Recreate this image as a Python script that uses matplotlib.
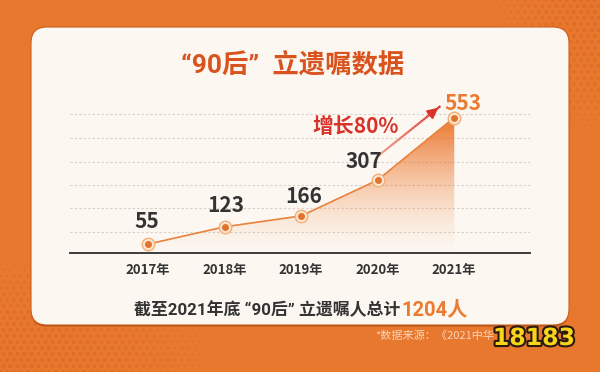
import numpy as np
import matplotlib
matplotlib.use("Agg")
import matplotlib.pyplot as plt
from matplotlib.patches import FancyBboxPatch, Polygon
from matplotlib.collections import LineCollection
from matplotlib.colors import to_rgb
import matplotlib.patheffects as pe

plt.rcParams['font.family'] = ['Noto Sans CJK SC', 'DejaVu Sans']
# Latin first where the curly quotes must stay narrow
QUOTE_FAMILY = ['Roboto', 'Noto Sans CJK SC']

# data
years = ['2017年', '2018年', '2019年', '2020年', '2021年']
counts = [55, 123, 166, 307, 553]
grid_levels = [104, 198, 289, 379, 473, 567]

title = '“90后”  立遗嘱数据'
growth_text = '增长80%'
summary_text = '截至2021年底 “90后” 立遗嘱人总计'
summary_total = '1204人'
source_text = '*数据来源：《2021中华'

ORANGE_BG = '#e9782f'
CARD = '#fcf7f0'
LINE = '#e8823c'
TITLE_C = '#d9531f'
TEXT_C = '#333333'
RED = '#d8322b'
HIGHLIGHT = '#ec7b32'

fig = plt.figure(figsize=(6, 3.72), dpi=100)
fig.patch.set_facecolor(ORANGE_BG)

# background layer in pixel units
bg = fig.add_axes([0, 0, 1, 1])
bg.set_xlim(0, 600)
bg.set_ylim(372, 0)
bg.axis('off')

# halftone dots in the corners
gx, gy = np.meshgrid(np.arange(0, 606, 7.0), np.arange(0, 378, 6.0))
gx = gx + (np.arange(gy.shape[0])[:, None] % 2) * 3.5
d_tr = np.hypot((gx - 600) / 110, gy / 140)
d_bl = np.hypot(gx / 230, (gy - 372) / 120)
strength = np.clip(1 - np.minimum(d_tr, d_bl), 0, 1)
keep = strength > 0.03
bg.scatter(gx[keep], gy[keep], s=strength[keep] * 14, color='#d8621f', alpha=0.45, lw=0)

# card
shadow = FancyBboxPatch((31, 28.5), 538, 298, boxstyle='round,pad=0,rounding_size=16',
                        fc='#b4501b', ec='none', zorder=2)
card = FancyBboxPatch((31, 27), 538, 298, boxstyle='round,pad=0,rounding_size=16',
                      fc=CARD, ec='#c9601f', lw=0.8, zorder=3)
bg.add_patch(shadow)
bg.add_patch(card)

bg.text(293, 65, title, ha='center', va='center', fontsize=19, fontweight='bold',
        color=TITLE_C, family=QUOTE_FAMILY, zorder=5)
bg.text(400, 315, summary_text, ha='right', va='baseline', fontsize=12.2,
        fontweight='bold', color=TEXT_C, family=QUOTE_FAMILY, zorder=5)
bg.text(401, 315, summary_total, ha='left', va='baseline', fontsize=14.5,
        fontweight='bold', color=HIGHLIGHT, family=QUOTE_FAMILY, zorder=5)
bg.text(375, 336, source_text, ha='left', va='center', fontsize=8, color='#f9d3b6', zorder=5)
bg.text(534, 338, '18183', ha='center', va='center', fontsize=17, fontweight='heavy',
        color='#f8d41c', family='DejaVu Sans', zorder=6,
        path_effects=[pe.withStroke(linewidth=3, foreground='#2a1a10')])

# chart
ax = fig.add_axes([70 / 600, 1 - 253 / 372, 460 / 600, 152 / 372])
ax.set_facecolor('none')
x = np.arange(len(counts))
ymin, ymax = 20, 618

for g in grid_levels:
    ax.axhline(g, color='#d6cfc6', lw=0.8, ls=(0, (2, 2)), zorder=0)

# gradient area under the line
verts = [(x[0], ymin)] + list(zip(x, counts)) + [(x[-1], ymin)]
poly = Polygon(verts, closed=True, fc='none', ec='none')
ax.add_patch(poly)
t = np.linspace(0, 1, 200)[:, None]
rgba = np.zeros((200, 2, 4))
rgba[..., :3] = to_rgb('#ec7429')
rgba[..., 3] = (t ** 1.5) * 0.98
im = ax.imshow(rgba, extent=[x[0], x[-1], ymin, max(counts)], origin='lower',
               aspect='auto', zorder=1)
im.set_clip_path(poly)

ax.plot(x, counts, color=LINE, lw=1.2, zorder=3)
ax.plot(x, counts, 'o', ms=9, mfc='#fde6d0', mec='#f2b07c', mew=1, zorder=4)
ax.plot(x, counts, 'o', ms=4, color='#e3732c', zorder=5)

label_offsets = [(-1, 16), (1, 15), (2, 14), (-10, 13), (6, 10)]
label_colors = [TEXT_C] * 4 + [HIGHLIGHT]
for xi, v, off, c in zip(x, counts, label_offsets, label_colors):
    ax.annotate(str(v), (xi, v), xytext=off, textcoords='offset points',
                ha='center', va='center', fontsize=15, fontweight='bold',
                color=c, zorder=6)

# growth arrow
arrow_from = np.array([2.99, 398.0])
arrow_to = np.array([3.82, 598.0])
pts = np.linspace(arrow_from, arrow_to, 30)
segs = np.stack([pts[:-1], pts[1:]], axis=1)
c0, c1 = np.array(to_rgb('#eea594')), np.array(to_rgb(RED))
cols = [c0 + (c1 - c0) * f for f in np.linspace(0, 1, len(segs))]
ax.add_collection(LineCollection(segs, colors=cols, lw=1.6, zorder=5))
ax.annotate('', xy=arrow_to, xytext=arrow_to - (arrow_to - arrow_from) * 0.15,
            arrowprops=dict(arrowstyle='-|>,head_length=0.6,head_width=0.3',
                            color=RED, lw=1.6), zorder=6)
ax.text(2.71, 516, growth_text, ha='center', va='center', fontsize=15,
        fontweight='bold', color=RED, zorder=6)

ax.set_xlim(-1.02, 4.99)
ax.set_ylim(ymin, ymax)
ax.set_xticks(x, years)
ax.set_yticks([])
ax.tick_params(axis='x', length=0, pad=7, labelsize=9.5, labelcolor=TEXT_C)
for lab in ax.get_xticklabels():
    lab.set_fontweight('bold')
for s in ['top', 'right', 'left']:
    ax.spines[s].set_visible(False)
ax.spines['bottom'].set_color('#3c3c3c')
ax.spines['bottom'].set_linewidth(1.4)

fig.savefig('out.png', dpi=100, facecolor=fig.get_facecolor())
